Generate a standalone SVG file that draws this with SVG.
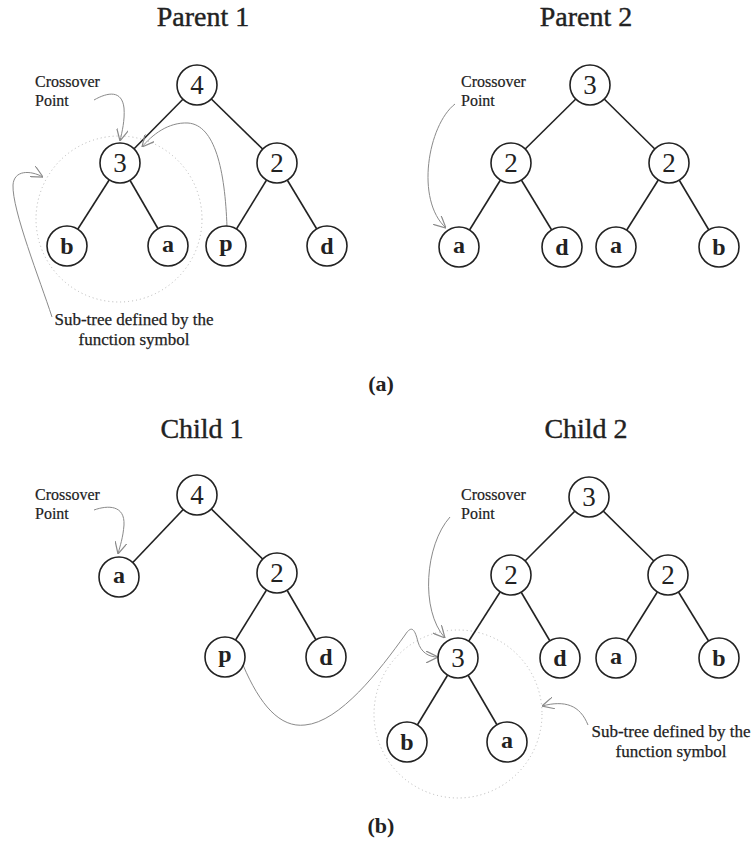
<svg xmlns="http://www.w3.org/2000/svg" width="755" height="850" viewBox="0 0 755 850">
<style>
.edge{stroke:#222;stroke-width:1.6;fill:none}
.node circle{fill:#fff;stroke:#222;stroke-width:1.6}
.num{font-family:"Liberation Serif",serif;font-size:27px;text-anchor:middle;fill:#222}
.let{font-family:"Liberation Serif",serif;font-size:24px;font-weight:bold;text-anchor:middle;fill:#222}
.title{font-family:"Liberation Serif",serif;font-size:28px;text-anchor:middle;fill:#222;stroke:#222;stroke-width:0.4}
.note{font-family:"Liberation Serif",serif;font-size:16px;fill:#222;stroke:#222;stroke-width:0.2}
.sub{font-family:"Liberation Serif",serif;font-size:17px;text-anchor:middle;fill:#222;stroke:#222;stroke-width:0.25}
.cap{font-family:"Liberation Serif",serif;font-size:22px;font-weight:bold;text-anchor:middle;fill:#222}
.curve{stroke:#8a8a8a;stroke-width:1;fill:none;marker-end:url(#arr)}
.dot{stroke:#b5b5b5;stroke-width:1;fill:none;stroke-dasharray:1 3}
</style>
<defs>
<marker id="arr" viewBox="0 0 10 10" refX="10" refY="5" markerWidth="12" markerHeight="12" markerUnits="userSpaceOnUse" orient="auto">
<path d="M0,0 L10,5 L0,10" fill="none" stroke="#8a8a8a" stroke-width="1"/>
</marker>
</defs>

<text class="title" x="203" y="26">Parent 1</text>
<text class="title" x="586" y="26">Parent 2</text>
<text class="title" x="202" y="438">Child 1</text>
<text class="title" x="586" y="438">Child 2</text>
<text class="cap" x="381" y="391">(a)</text>
<text class="cap" x="381" y="833">(b)</text>

<circle class="dot" cx="119" cy="219" r="83"/>
<circle class="dot" cx="458" cy="714" r="84"/>

<g id="connectors">
<line class="edge" x1="197" y1="85" x2="120" y2="163"/>
<line class="edge" x1="197" y1="85" x2="277" y2="163"/>
<line class="edge" x1="120" y1="163" x2="67" y2="246"/>
<line class="edge" x1="120" y1="163" x2="168" y2="246"/>
<line class="edge" x1="277" y1="163" x2="226" y2="246"/>
<line class="edge" x1="277" y1="163" x2="327" y2="246"/>
<line class="edge" x1="590" y1="85" x2="511" y2="163"/>
<line class="edge" x1="590" y1="85" x2="669" y2="163"/>
<line class="edge" x1="511" y1="163" x2="459" y2="247"/>
<line class="edge" x1="511" y1="163" x2="562" y2="247"/>
<line class="edge" x1="669" y1="163" x2="616" y2="247"/>
<line class="edge" x1="669" y1="163" x2="719" y2="247"/>
<line class="edge" x1="197" y1="495" x2="119" y2="577"/>
<line class="edge" x1="197" y1="495" x2="277" y2="573"/>
<line class="edge" x1="277" y1="573" x2="225" y2="657"/>
<line class="edge" x1="277" y1="573" x2="326" y2="657"/>
<line class="edge" x1="589" y1="497" x2="511" y2="575"/>
<line class="edge" x1="589" y1="497" x2="668" y2="575"/>
<line class="edge" x1="511" y1="575" x2="458" y2="658"/>
<line class="edge" x1="511" y1="575" x2="560" y2="658"/>
<line class="edge" x1="668" y1="575" x2="616" y2="658"/>
<line class="edge" x1="668" y1="575" x2="719" y2="658"/>
<line class="edge" x1="458" y1="658" x2="407" y2="742"/>
<line class="edge" x1="458" y1="658" x2="507" y2="742"/>
<path class="curve" d="M94,100 C108,92 122,90 124,108 C125,120 122,132 120,141"/>
<path class="curve" d="M227,227 C225,170 215,125 188,123 C168,122 152,135 142,147"/>
<path class="curve" d="M52,317 C40,280 12,210 13,185 C14,170 30,170 43,177"/>
<path class="curve" d="M455,104 C428,125 415,200 446,228"/>
<path class="curve" d="M94,510 C108,505 125,505 124,525 C123,538 120,546 118,554"/>
<path class="curve" d="M450,517 C425,545 420,610 445,638"/>
<path class="curve" d="M243,665 C260,705 280,728 305,725 C340,722 380,670 405,635 C412,624 415,630 418,642 C421,652 428,657 438,657"/>
<path class="curve" d="M588,725 C580,705 565,700 542,706"/>
</g>

<g id="p1-4" class="node"><circle cx="197" cy="85" r="20"/><text class="num" x="197" y="94">4</text></g>
<g id="p1-3" class="node"><circle cx="120" cy="163" r="20"/><text class="num" x="120" y="172">3</text></g>
<g id="p1-2" class="node"><circle cx="277" cy="163" r="20"/><text class="num" x="277" y="172">2</text></g>
<g id="p1-b" class="node"><circle cx="67" cy="246" r="20"/><text class="let" x="67" y="254">b</text></g>
<g id="p1-a" class="node"><circle cx="168" cy="246" r="20"/><text class="let" x="168" y="252">a</text></g>
<g id="p1-p" class="node"><circle cx="226" cy="246" r="20"/><text class="let" x="226" y="251">p</text></g>
<g id="p1-d" class="node"><circle cx="327" cy="246" r="20"/><text class="let" x="327" y="254">d</text></g>

<g id="p2-3" class="node"><circle cx="590" cy="85" r="20"/><text class="num" x="590" y="94">3</text></g>
<g id="p2-2l" class="node"><circle cx="511" cy="163" r="20"/><text class="num" x="511" y="172">2</text></g>
<g id="p2-2r" class="node"><circle cx="669" cy="163" r="20"/><text class="num" x="669" y="172">2</text></g>
<g id="p2-a1" class="node"><circle cx="459" cy="247" r="20"/><text class="let" x="459" y="253">a</text></g>
<g id="p2-d" class="node"><circle cx="562" cy="247" r="20"/><text class="let" x="562" y="255">d</text></g>
<g id="p2-a2" class="node"><circle cx="616" cy="247" r="20"/><text class="let" x="616" y="253">a</text></g>
<g id="p2-b" class="node"><circle cx="719" cy="247" r="20"/><text class="let" x="719" y="255">b</text></g>

<g id="c1-4" class="node"><circle cx="197" cy="495" r="20"/><text class="num" x="197" y="504">4</text></g>
<g id="c1-a" class="node"><circle cx="119" cy="577" r="20"/><text class="let" x="119" y="583">a</text></g>
<g id="c1-2" class="node"><circle cx="277" cy="573" r="20"/><text class="num" x="277" y="582">2</text></g>
<g id="c1-p" class="node"><circle cx="225" cy="657" r="20"/><text class="let" x="225" y="662">p</text></g>
<g id="c1-d" class="node"><circle cx="326" cy="657" r="20"/><text class="let" x="326" y="665">d</text></g>

<g id="c2-3" class="node"><circle cx="589" cy="497" r="20"/><text class="num" x="589" y="506">3</text></g>
<g id="c2-2l" class="node"><circle cx="511" cy="575" r="20"/><text class="num" x="511" y="584">2</text></g>
<g id="c2-2r" class="node"><circle cx="668" cy="575" r="20"/><text class="num" x="668" y="584">2</text></g>
<g id="c2-3s" class="node"><circle cx="458" cy="658" r="20"/><text class="num" x="458" y="667">3</text></g>
<g id="c2-d" class="node"><circle cx="560" cy="658" r="20"/><text class="let" x="560" y="666">d</text></g>
<g id="c2-a" class="node"><circle cx="616" cy="658" r="20"/><text class="let" x="616" y="664">a</text></g>
<g id="c2-b" class="node"><circle cx="719" cy="658" r="20"/><text class="let" x="719" y="666">b</text></g>
<g id="c2-bs" class="node"><circle cx="407" cy="742" r="20"/><text class="let" x="407" y="750">b</text></g>
<g id="c2-as" class="node"><circle cx="507" cy="742" r="20"/><text class="let" x="507" y="748">a</text></g>

<g id="notes">
<text class="note" x="35" y="87">Crossover</text>
<text class="note" x="35" y="106">Point</text>
<text class="note" x="461" y="87">Crossover</text>
<text class="note" x="461" y="106">Point</text>
<text class="note" x="35" y="500">Crossover</text>
<text class="note" x="35" y="519">Point</text>
<text class="note" x="461" y="500">Crossover</text>
<text class="note" x="461" y="519">Point</text>
<text class="sub" x="134" y="325">Sub-tree defined by the</text>
<text class="sub" x="134" y="345">function symbol</text>
<text class="sub" x="671" y="737">Sub-tree defined by the</text>
<text class="sub" x="671" y="757">function symbol</text>
</g>
</svg>
